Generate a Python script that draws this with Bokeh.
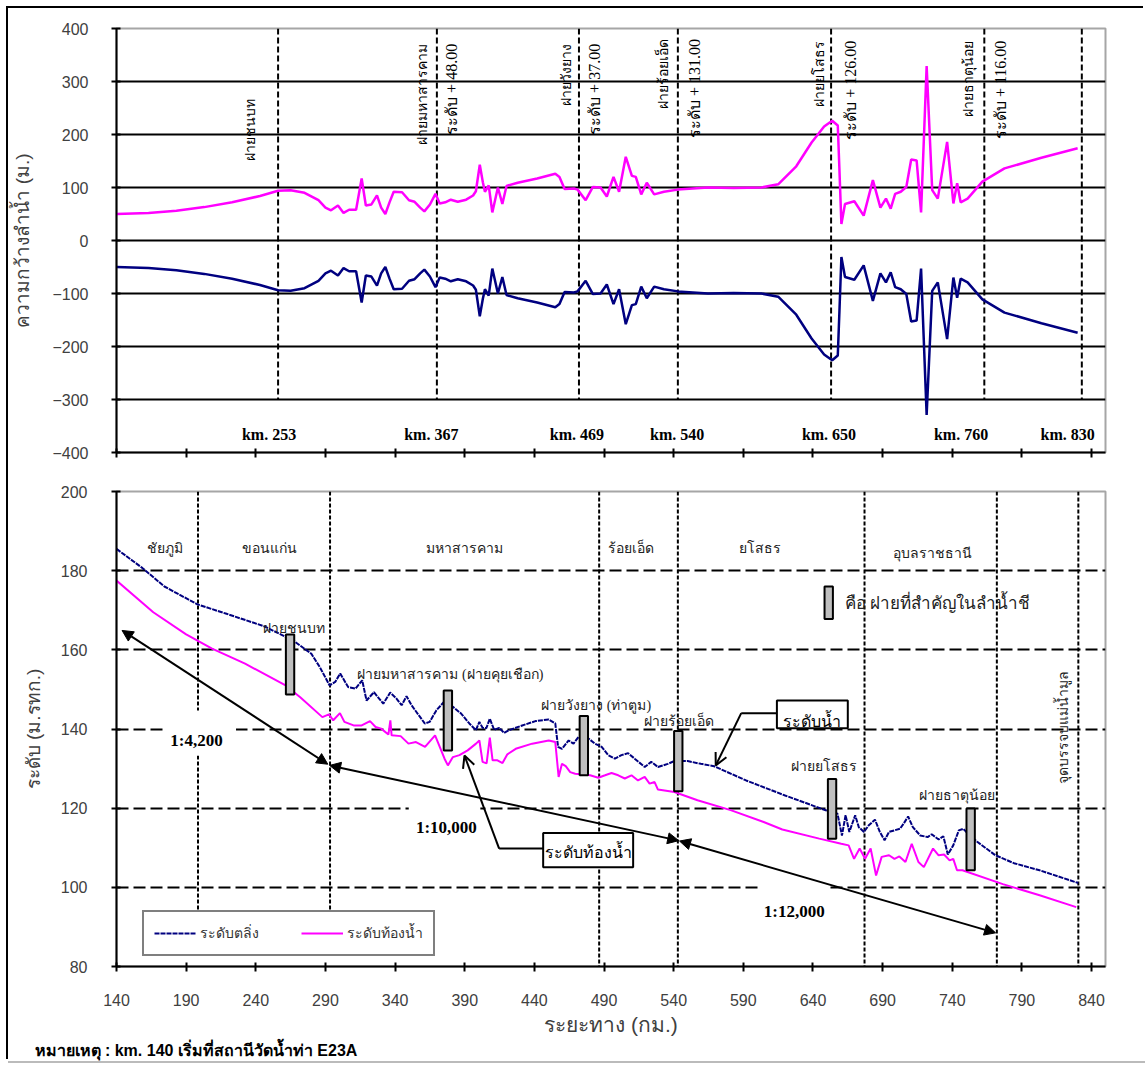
import math
from bokeh.plotting import figure
from bokeh.models import (ColumnDataSource, Arrow, NormalHead, OpenHead, FixedTicker,
                          Title, Legend, LegendItem)
from bokeh.layouts import column
from bokeh.embed import file_html
from bokeh.resources import INLINE
from bokeh.core.properties import value

# ---------------- top panel data: half river width (m) vs distance (km)
top_km = [137, 160, 180, 200, 220, 240, 253, 262, 272, 282, 287, 291, 296, 300, 304, 309, 313, 316,
          320, 324, 327, 330, 333, 336, 342, 347, 351, 355, 358, 362, 366, 369, 373, 377, 382, 388,
          393, 395, 397.8, 400, 401.5, 404.2, 406.8, 410.8, 414, 417, 425, 439, 452, 455, 458.7,
          465.4, 468, 473.8, 479, 484.5, 489, 493.8, 497.8, 502.6, 507, 509.8, 513.7, 517.7, 523,
          530, 540, 561.6, 580, 600, 612, 625, 636, 645, 650.8, 654.8, 656, 657.4, 660, 666.7,
          673.4, 680, 685.4, 689.4, 692.8, 696, 700, 704, 707.5, 711.4, 714.6, 718.6, 722.6, 726.6,
          733.3, 737.8, 740.5, 743, 748, 758.6, 774.5, 801, 827]
top_half = [50, 52, 56, 63, 72, 84, 94, 95, 90, 76, 62, 57, 66, 52, 58, 58, 117, 66, 68, 85, 62,
            50, 72, 92, 91, 76, 73, 62, 55, 68, 88, 70, 72, 77, 73, 77, 85, 93, 143, 110, 92, 104,
            53, 100, 69, 103, 109, 117, 126, 120, 97, 98, 96, 76, 101, 100, 83, 120, 92, 158, 122,
            120, 87, 109, 87, 92, 96, 100, 99, 100, 106, 140, 185, 215, 226, 217, 133, 31, 69, 74,
            47, 114, 62, 79, 60, 88, 92, 101, 153, 151, 53, 329, 95, 79, 186, 70, 108, 72, 79, 111,
            136, 156, 174]
top_ticks = [137, 187, 237, 287, 337, 387, 437, 487, 537, 587, 637, 687, 737, 787, 837]

top_marker_km = [253, 367, 469, 540, 650, 760, 830]
top_marker_text = ["km. 253", "km. 367", "km. 469", "km. 540", "km. 650", "km. 760", "km. 830"]
top_marker_label_km = [246.5, 363, 467.5, 539.5, 648.5, 743.3, 819.8]

top_weir_names = ["ฝายชนบท", "ฝายมหาสารคาม", "ฝายวังยาง", "ฝายร้อยเอ็ด", "ฝายยโสธร", "ฝายธาตุน้อย"]
top_weir_km = [233, 356.8, 460, 529.7, 641.4, 749]
top_weir_y = [267, 371, 371, 380, 377, 377]
crest_text = ["ระดับ + 48.00", "ระดับ + 37.00", "ระดับ + 131.00", "ระดับ + 126.00", "ระดับ + 116.00"]
crest_km = [377.7, 479.8, 552.2, 664, 771.7]
crest_y = [371, 371, 380, 377, 377]

# ---------------- bottom panel data
bank_km = [140, 158.5, 174.4, 198, 219, 245.6, 266.7, 279.9, 286, 293, 297, 300.6, 306.3, 311.6,
           316.4, 319.5, 324.8, 331.5, 336.5, 341, 344.7, 348.2, 351.8, 355.3, 361.3, 364.8, 369.6,
           375.5, 381.5, 387.4, 393.3, 398, 400.5, 402.8, 405.5, 408, 411.1, 414.7, 418.3, 421.8,
           431.3, 440.8, 450.3, 455, 457, 459.8, 464.6, 468.1, 471.7, 478.8, 483.5, 488.3, 493,
           497.8, 502.5, 507.3, 512, 519.2, 523.9, 528.7, 535.8, 540.5, 550, 559.5, 569, 592, 620,
           649.7, 657.6, 660.8, 663.4, 666.1, 670.3, 672.9, 676.6, 680.1, 684.5, 688, 691.4, 694.6,
           698.5, 702.5, 705.1, 708.3, 711.7, 717, 722.3, 725.2, 730.2, 733.6, 736.8, 740.7, 744.7,
           747.9, 750, 757.9, 771, 784.3, 802.7, 830.4]
bank_lvl = [185.5, 180.7, 176, 171.5, 169.1, 166, 162.4, 159, 155.6, 151, 151.9, 154, 150.6, 150.2,
            152.3, 147.2, 149.3, 146.4, 149.2, 147.7, 146, 148.3, 146, 144.3, 141.4, 141.8, 144.7,
            147, 145.6, 143.9, 141.4, 139.7, 141.8, 140.3, 140.2, 142.6, 139.8, 140.3, 139, 139.7,
            140.9, 142, 142.4, 141.4, 135.5, 135, 137.1, 136.3, 138, 137.6, 136.3, 135.5, 133.4,
            132.5, 133.4, 133.9, 132.5, 130.4, 131.7, 130.4, 131.2, 131.9, 131.9, 131.2, 130.6, 127,
            123.2, 119.4, 118.6, 113.1, 118.2, 114, 118.2, 115.2, 114, 115.7, 117.1, 114, 111.9, 114,
            114.4, 114.8, 116.1, 117.9, 115.2, 113.1, 112.7, 113.4, 112.1, 112.9, 108.3, 110.6,
            114.4, 114.8, 114, 111.5, 108.1, 106.1, 104.3, 101.1]
bed_km = [140, 166.4, 190, 208.6, 232.3, 261.4, 271.9, 287.8, 292.5, 295.6, 300.4, 303.6, 310.2,
          316, 322, 326, 330, 335.2, 336.6, 337.5, 344, 349.6, 355, 361.5, 368.7, 375.5, 377.9,
          381.5, 386.2, 392.1, 398.1, 400.5, 402.8, 405.7, 408, 410, 413.5, 417.1, 420.6, 426.6,
          438.4, 450.3, 455, 457.4, 459.8, 462.5, 465.7, 469.3, 480, 485.9, 490.7, 495.4, 500.2,
          504.9, 509.7, 514.4, 519.2, 522.7, 526.3, 528.7, 540.5, 557.1, 580.9, 604.6, 618, 644.5,
          660.3, 665.6, 669.5, 673.5, 677.4, 681.4, 685.3, 689.3, 694.6, 698.5, 702, 706.4, 710.9,
          715.7, 719.6, 726.2, 730.2, 734.1, 738.1, 740.7, 743.4, 747.3, 776.3, 802.7, 829]
bed_lvl = [177.5, 169.5, 163.9, 160.3, 156.5, 151, 148, 143, 143.7, 142.2, 144, 141.8, 140.9, 140.9,
           142, 140.5, 140.1, 138.6, 142.2, 138.4, 138.2, 136.3, 136.7, 135.5, 138.4, 132.5, 130.8,
           132.9, 133.4, 134.6, 136.3, 137.1, 131.7, 131.3, 137.8, 132.1, 132.1, 131.4, 133.6, 135,
           136.3, 137.1, 136.7, 127.9, 131.2, 130.6, 129.1, 128.7, 128.3, 127.7, 128.3, 128.9,
           128.3, 127.5, 128.3, 127, 127.9, 126.2, 126.6, 124.7, 124.1, 122, 119.5, 116.5, 114.6,
           112.3, 111, 110.6, 107.2, 109.8, 107.2, 109.8, 103, 107.7, 108.1, 107.2, 107.8, 106.4,
           111, 106.4, 105.1, 109.8, 108.1, 108.3, 106.8, 107.2, 104.3, 104.3, 100.8, 98, 95]
x_ticks = [140, 190, 240, 290, 340, 390, 440, 490, 540, 590, 640, 690, 740, 790, 840]
y_ticks = [80, 100, 120, 140, 160, 180, 200]

weir_km = [264.6, 377.9, 475.5, 543.3, 653.7, 753.2]
weir_top = [163.9, 149.7, 143.3, 139.5, 127.4, 119.9]
weir_bottom = [148.7, 134.6, 128.3, 124.3, 112.3, 104.3]
weir_label = ["ฝายชนบท", "ฝายมหาสารคาม (ฝายคุยเชือก)", "ฝายวังยาง (ท่าตูม)", "ฝายร้อยเอ็ด",
              "ฝายยโสธร", "ฝายธาตุน้อย"]
weir_label_km = [267.5, 379.7, 484.4, 543.8, 648, 743.3]
weir_label_y = [165.4, 153.8, 146, 142, 130.5, 123.2]

prov_names = ["ชัยภูมิ", "ขอนแก่น", "มหาสารคาม", "ร้อยเอ็ด", "ยโสธร", "อุบลราชธานี"]
prov_km = [174.5, 250, 390, 509.6, 601.9, 726]
prov_y = [185.5, 185.5, 185.5, 185.7, 185.7, 184.4]
bound_km = [198.5, 293.3, 486.5, 543, 677, 772, 830.5]
bound_end = [93, 93, 80, 80, 80, 80, 80]

slope_x0 = [144, 293, 544.2]
slope_y0 = [164.9, 130.8, 111.7]
slope_x1 = [291.7, 543.6, 771.1]
slope_y1 = [131.1, 111.8, 88.5]
slope_text = ["1:4,200", "1:10,000", "1:12,000"]
slope_text_km = [197.4, 376.8, 626.5]
slope_text_y = [137.1, 115.2, 93.8]
slope_box_l = [175.6, 349.8, 602.2]
slope_box_r = [225.8, 401.2, 651]
slope_box_b = [133.3, 112.5, 91]
slope_box_t = [144.7, 121.5, 100.5]

callout_text = ["ระดับน้ำ", "ระดับท้องน้ำ"]
callout_l = [614.1, 446.3]
callout_r = [665, 510.9]
callout_t = [147.2, 113.7]
callout_b = [140.2, 105.1]
callout_text_km = [639.5, 478.6]
callout_text_y = [141.8, 108.8]
corner_km = [588.5, 414.7]
corner_y = [144, 109.8]
tip_km = [570.2, 389.8]
tip_y = [130.8, 133.3]

key_km = [651.3]
key_top = [176]
key_bottom = [167.8]

SERIF = value("Liberation Serif")
NAVY = "#000080"
PINK = "#FF00FF"

# ================= TOP FIGURE
p1 = figure(width=1137, height=468, x_range=(137, 847), y_range=(-400, 400),
            output_backend="svg", toolbar_location=None,
            min_border_left=108, min_border_right=40, min_border_top=20, min_border_bottom=24)
p1.background_fill_color = "white"
p1.border_fill_color = "white"
p1.outline_line_color = "#a6a6a6"
p1.outline_line_width = 2
p1.xgrid.visible = False
p1.ygrid.ticker = FixedTicker(ticks=[-300, -200, -100, 0, 100, 200, 300])
p1.ygrid.grid_line_color = "black"
p1.ygrid.grid_line_width = 2
p1.yaxis.ticker = FixedTicker(ticks=[-400, -300, -200, -100, 0, 100, 200, 300, 400])
p1.xaxis.ticker = FixedTicker(ticks=top_ticks)
p1.xaxis.major_label_overrides = {t: "" for t in top_ticks}
p1.xaxis.major_label_standoff = 0
for ax in (p1.xaxis, p1.yaxis):
    ax.axis_line_width = 2
    ax.axis_line_color = "black"
    ax.major_tick_line_width = 2
    ax.major_tick_in = 4
    ax.major_tick_out = 5
    ax.minor_tick_line_color = None
p1.yaxis.major_label_text_font = "Liberation Sans"
p1.yaxis.major_label_text_font_size = "16px"
p1.yaxis.major_label_text_color = "#404040"
p1.yaxis.major_label_standoff = 23
p1.yaxis.axis_label = "ความกว้างลำน้ำ (ม.)"
p1.yaxis.axis_label_text_font = "Liberation Sans"
p1.yaxis.axis_label_text_font_style = "normal"
p1.yaxis.axis_label_text_font_size = "19px"
p1.yaxis.axis_label_text_color = "#404040"
p1.yaxis.axis_label_standoff = 16

p1.segment(x0=top_marker_km, y0=[400] * len(top_marker_km), x1=top_marker_km,
           y1=[-300] * len(top_marker_km), line_color="black", line_width=2, line_dash="6 3")
p1.line(top_km, top_half, line_color=PINK, line_width=2.5)
p1.line(top_km, [-v for v in top_half], line_color=NAVY, line_width=2.5)
p1.text(x=top_marker_label_km, y=[-366] * len(top_marker_label_km), text=top_marker_text,
        text_font=SERIF, text_font_style="bold", text_font_size="16px",
        text_align="center", text_baseline="middle", text_color="black")
p1.text(x=top_weir_km, y=top_weir_y, text=top_weir_names, angle=math.pi / 2,
        text_font=SERIF, text_font_size="14px", text_align="right", text_baseline="middle",
        text_color="black")
p1.text(x=crest_km, y=crest_y, text=crest_text, angle=math.pi / 2,
        text_font=SERIF, text_font_size="16px", text_align="right", text_baseline="middle",
        text_color="black")

# ================= BOTTOM FIGURE
p2 = figure(width=1137, height=585, x_range=(140, 850), y_range=(80, 200),
            output_backend="svg", toolbar_location=None,
            min_border_left=103, min_border_right=36, min_border_top=15, min_border_bottom=95)
p2.background_fill_color = "white"
p2.border_fill_color = "white"
p2.outline_line_color = "#a6a6a6"
p2.outline_line_width = 2
p2.xgrid.visible = False
p2.ygrid.ticker = FixedTicker(ticks=[100, 120, 140, 160, 180])
p2.ygrid.grid_line_color = "black"
p2.ygrid.grid_line_width = 2
p2.ygrid.grid_line_dash = "12 5"
p2.xaxis.ticker = FixedTicker(ticks=x_ticks)
p2.yaxis.ticker = FixedTicker(ticks=y_ticks)
for ax in (p2.xaxis, p2.yaxis):
    ax.axis_line_width = 2
    ax.axis_line_color = "black"
    ax.major_tick_line_width = 2
    ax.major_tick_in = 4
    ax.major_tick_out = 5
    ax.minor_tick_line_color = None
    ax.major_label_text_font = "Liberation Sans"
    ax.major_label_text_font_size = "16px"
    ax.major_label_text_color = "#404040"
    ax.axis_label_text_font = "Liberation Sans"
    ax.axis_label_text_font_style = "normal"
    ax.axis_label_text_color = "#404040"
p2.yaxis.major_label_standoff = 24
p2.xaxis.major_label_standoff = 22
p2.yaxis.axis_label = "ระดับ (ม.รทก.)"
p2.yaxis.axis_label_text_font_size = "19px"
p2.yaxis.axis_label_standoff = 14
p2.xaxis.axis_label = "ระยะทาง (กม.)"
p2.xaxis.axis_label_text_font_size = "21px"
p2.xaxis.axis_label_standoff = 4

p2.segment(x0=bound_km, y0=[200] * len(bound_km), x1=bound_km, y1=bound_end,
           line_color="black", line_width=2, line_dash="4 2")
p2.quad(left=slope_box_l, right=slope_box_r, bottom=slope_box_b, top=slope_box_t,
        fill_color="white", line_color=None)

r_bank = p2.line(bank_km, bank_lvl, line_color=NAVY, line_width=2, line_dash="5 1")
r_bed = p2.line(bed_km, bed_lvl, line_color=PINK, line_width=2)

p2.vbar(x=weir_km, width=6, top=weir_top, bottom=weir_bottom,
        fill_color="#bfbfbf", line_color="black", line_width=2)
p2.vbar(x=key_km, width=6, top=key_top, bottom=key_bottom,
        fill_color="#bfbfbf", line_color="black", line_width=2)

p2.text(x=weir_label_km, y=weir_label_y, text=weir_label, text_font=SERIF,
        text_font_size="14px", text_align="center", text_baseline="middle", text_color="#222222")
p2.text(x=prov_km, y=prov_y, text=prov_names, text_font=SERIF,
        text_font_size="14px", text_align="center", text_baseline="middle", text_color="#222222")
p2.text(x=[662.8], y=[171.7], text=["คือ ฝายที่สำคัญในลำน้ำชี"], text_font=SERIF,
        text_font_size="17px", text_align="left", text_baseline="middle", text_color="#222222")
p2.text(x=[820.2], y=[140.4], text=["จุดบรรจบแม่น้ำมูล"], angle=math.pi / 2, text_font=SERIF,
        text_font_size="14px", text_align="center", text_baseline="middle", text_color="#222222")
p2.text(x=slope_text_km, y=slope_text_y, text=slope_text, text_font=SERIF,
        text_font_style="bold", text_font_size="17px", text_align="center",
        text_baseline="middle", text_color="black")

# callout boxes
p2.quad(left=callout_l, right=callout_r, bottom=callout_b, top=callout_t,
        fill_color="white", line_color="black", line_width=2)
p2.text(x=callout_text_km, y=callout_text_y, text=callout_text, text_font=SERIF,
        text_font_size="16px", text_align="center", text_baseline="middle", text_color="black")
p2.segment(x0=callout_l, y0=corner_y, x1=corner_km, y1=corner_y, line_color="black", line_width=2)
p2.add_layout(Arrow(end=OpenHead(size=12, line_width=2, line_color="black"),
                    source=ColumnDataSource(dict(x0=corner_km, y0=corner_y, x1=tip_km, y1=tip_y)),
                    x_start="x0", y_start="y0", x_end="x1", y_end="y1",
                    line_color="black", line_width=2))

# slope arrows
p2.add_layout(Arrow(start=NormalHead(size=11, fill_color="black", line_color="black"),
                    end=NormalHead(size=11, fill_color="black", line_color="black"),
                    source=ColumnDataSource(dict(x0=slope_x0, y0=slope_y0, x1=slope_x1, y1=slope_y1)),
                    x_start="x0", y_start="y0", x_end="x1", y_end="y1",
                    line_color="black", line_width=2))

legend = Legend(items=[LegendItem(label="ระดับตลิ่ง", renderers=[r_bank]),
                       LegendItem(label="ระดับท้องน้ำ", renderers=[r_bed])],
                orientation="horizontal", location=(26, 10), padding=10, spacing=26,
                glyph_width=42, glyph_height=20, label_standoff=4, label_width=75, margin=0,
                border_line_color="black", border_line_width=2, background_fill_alpha=1,
                label_text_font="Liberation Sans", label_text_font_size="14px",
                label_text_color="#333333")
p2.add_layout(legend)

p2.add_layout(Title(text="หมายเหตุ : km. 140 เริ่มที่สถานีวัดน้ำท่า E23A", align="left",
                    offset=-82, standoff=2, text_font="Liberation Sans", text_font_style="bold",
                    text_font_size="16px", text_color="black"), "below")

layout = column(p1, p2, spacing=0, margin=(8, 0, 0, 8),
                styles={"box-shadow": "-2px -2px 0 0 #000000, 0 2px 0 0 #bbbbbb"})

open("out.html", "w").write(file_html(layout, INLINE))
